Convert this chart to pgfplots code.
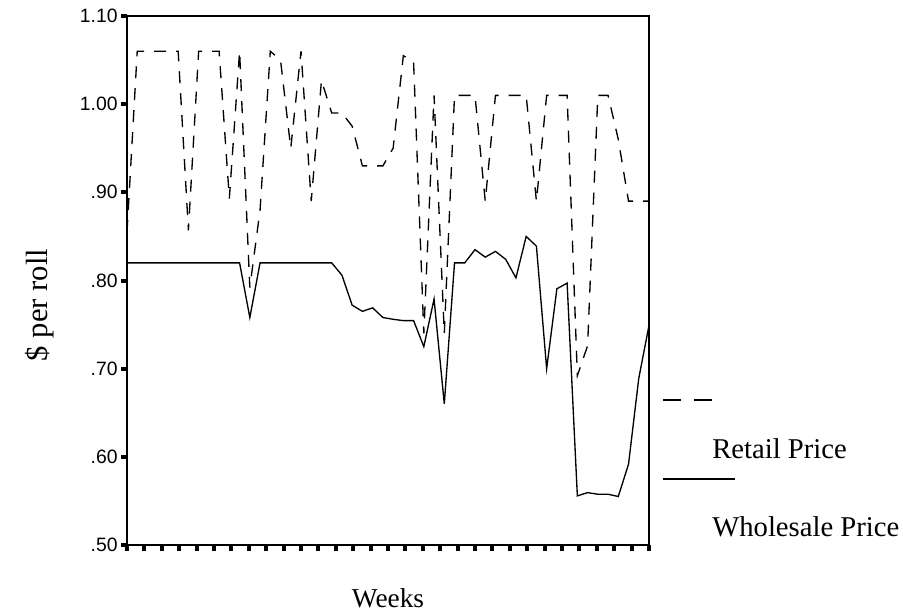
\documentclass[border=0pt]{standalone}
\usepackage{fontspec}
\setmainfont{Liberation Serif}
\newfontfamily\arial{Liberation Sans}
\usepackage{pgfplots}
\pgfplotsset{compat=1.18}

% week index, retail price, wholesale price
\pgfplotstableread{
w retail wholesale
0 0.855 0.82
1 1.06 0.82
2 1.06 0.82
3 1.06 0.82
4 1.06 0.82
5 1.06 0.82
6 0.857 0.82
7 1.06 0.82
8 1.06 0.82
9 1.06 0.82
10 0.893 0.82
11 1.06 0.82
12 0.792 0.758
13 0.88 0.82
14 1.06 0.82
15 1.05 0.82
16 0.95 0.82
17 1.06 0.82
18 0.89 0.82
19 1.027 0.82
20 0.99 0.82
21 0.99 0.806
22 0.975 0.772
23 0.93 0.765
24 0.93 0.769
25 0.93 0.758
26 0.95 0.756
27 1.055 0.7545
28 1.048 0.7545
29 0.74 0.725
30 1.01 0.779
31 0.74 0.660
32 1.01 0.82
33 1.01 0.82
34 1.01 0.835
35 0.89 0.8265
36 1.01 0.833
37 1.01 0.824
38 1.01 0.803
39 1.01 0.85
40 0.89 0.839
41 1.01 0.70
42 1.01 0.7906
43 1.01 0.797
44 0.692 0.5557
45 0.726 0.5594
46 1.01 0.5576
47 1.01 0.5576
48 0.96 0.555
49 0.89 0.5917
50 0.89 0.689
51 0.89 0.749
}\prices

\begin{document}
\begin{tikzpicture}
\path[use as bounding box] (0,0) rectangle (677.25pt,-462pt);
\begin{axis}[
  at={(95.25pt,-408.75pt)}, anchor=south west,
  width=391.5pt, height=396.75pt, scale only axis,
  xmin=0, xmax=51, ymin=0.5, ymax=1.1,
  ytick={0.5,0.6,0.7,0.8,0.9,1.0,1.1},
  yticklabels={.50,.60,.70,.80,.90,1.00,1.10},
  xtick={0,1.7,3.4,5.1,6.8,8.5,10.2,11.9,13.6,15.3,17,18.7,20.4,22.1,23.8,25.5,27.2,28.9,30.6,32.3,34,35.7,37.4,39.1,40.8,42.5,44.2,45.9,47.6,49.3,51},
  xticklabels={},
  tick align=outside, xtick pos=left, ytick pos=left,
  major tick length=4.5pt,
  tick style={line width=3pt, black},
  axis line style={line width=1.5pt},
  yticklabel style={font=\arial\fontsize{14.5}{16}\selectfont, xshift=1pt},
  /pgf/number format/assume math mode=true,
]
\addplot[black, line width=1pt, dash pattern=on 9pt off 7.5pt] table[x=w, y=retail] {\prices};
\addplot[black, line width=1pt] table[x=w, y=wholesale] {\prices};
\end{axis}
\begin{scope}[x=0.75pt, y=-0.75pt]
\node[rotate=90, font=\fontsize{23}{27}\selectfont] at (40,305) {\$ per roll};
\node[font=\fontsize{20.5}{24}\selectfont] at (388,598) {Weeks};
\draw[black, line width=1pt, dash pattern=on 13.5pt off 9.75pt] (663,400) -- (713,400);
\node[anchor=base west, inner sep=0pt, font=\fontsize{21.5}{25}\selectfont] at (712,458) {Retail Price};
\draw[black, line width=1pt] (663,479) -- (735,479);
\node[anchor=base west, inner sep=0pt, font=\fontsize{21.5}{25}\selectfont] at (712,536) {Wholesale Price};
\end{scope}
\end{tikzpicture}
\end{document}
